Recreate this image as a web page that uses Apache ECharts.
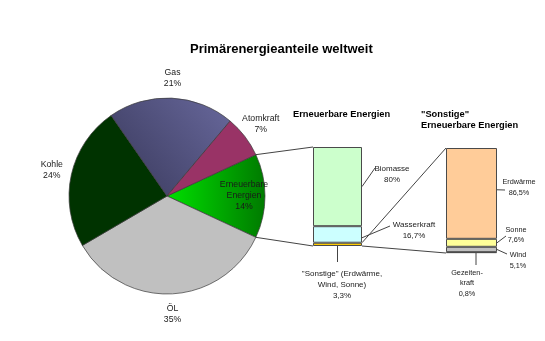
<!DOCTYPE html>
<html><head><meta charset="utf-8">
<script src="https://cdn.jsdelivr.net/npm/echarts@6/dist/echarts.min.js"></script>
<style>html,body{margin:0;padding:0;background:#fff}#c{width:545px;height:341px}</style>
</head><body><div id="c"></div>
<script>
// ---- data ----
const pieNames = ['Erneuerbare Energien', 'ÖL', 'Kohle', 'Gas', 'Atomkraft'];
const pieLabels = ['Erneuerbare\nEnergien', 'ÖL', 'Kohle', 'Gas', 'Atomkraft'];
const pieValues = [14, 35, 24, 21, 7];

const renewNames = ['"Sonstige" (Erdwärme, Wind, Sonne)', 'Wasserkraft', 'Biomasse'];
const renewLabels = ['"Sonstige" (Erdwärme,\nWind, Sonne)', 'Wasserkraft', 'Biomasse'];
const renewValues = [3.3, 16.7, 80];

const otherNames = ['Gezeitenkraft', 'Wind', 'Sonne', 'Erdwärme'];
const otherLabels = ['Gezeiten-\nkraft', 'Wind', 'Sonne', 'Erdwärme'];
const otherValues = [0.8, 5.1, 7.6, 86.5];

// ---- layout / style ----
const FONT = '"Liberation Sans", Arial, sans-serif';
const PIE_C = [167, 196], PIE_R = 98;
const G1 = {left: 313, top: 147, width: 49, height: 99};
const G2 = {left: 446, top: 148, width: 51, height: 105};
const renewColors = ['#ffcc00', '#ccffff', '#ccffcc'];
const otherColors = ['#0033cc', '#c0c0c0', '#ffff99', '#ffcc99'];
const renewLabelPos = [[342, 284.5], [414, 230.5], [392, 174.5]];
const otherLabelPos = [[467, 283], [518, 260.5], [516, 235], [519, 187.5]];
// leader lines: start on bar (bottom at x, or right side at fraction of segment), end point
const renewLeaders = [{bottomX: 337.5, end: [337.5, 262]}, {frac: 0.3, end: [390, 226]}, {frac: 0.5, end: [375, 168]}];
const otherLeaders = [{bottomX: 476, end: [476, 265]}, {frac: 0.5, end: [507, 254]}, {frac: 0.5, end: [506, 236]}, {frac: 0.54, end: [505, 190]}];

const pieColors = [
  new echarts.graphic.LinearGradient(0, 0, 1, 0, [{offset: 0, color: '#00e000'}, {offset: 1, color: '#007a00'}]),
  '#c0c0c0',
  '#003300',
  new echarts.graphic.LinearGradient(0, 1, 1, 0, [{offset: 0, color: '#38385a'}, {offset: 1, color: '#68689c'}]),
  '#993366'
];

const total = pieValues.reduce((a, b) => a + b, 0);
const startAngle = pieValues[0] / total * 180;
const mids = [], bounds = [];
let cum = 0;
pieValues.forEach(v => {
  bounds.push(startAngle - cum / total * 360);
  mids.push(startAngle - (cum + v / 2) / total * 360);
  cum += v;
});
function polar(deg, r) {
  const a = deg * Math.PI / 180;
  return [PIE_C[0] + r * Math.cos(a), PIE_C[1] - r * Math.sin(a)];
}
const fmt = v => String(v).replace('.', ',');

function barSeries(values, names, labels, colors, pos, idx, stack, fs) {
  return values.map((v, i) => ({
    type: 'bar', name: names[i], stack: stack, xAxisIndex: idx, yAxisIndex: idx,
    data: [v], barWidth: '100%', silent: true,
    itemStyle: {color: colors[i], borderColor: '#4a4a4a', borderWidth: 1},
    label: {
      show: true, position: 'right',
      formatter: () => labels[i] + '\n' + fmt(v) + '%',
      fontFamily: FONT, fontSize: fs, lineHeight: fs + 3.2, color: '#1a1a1a', align: 'center'
    },
    labelLine: {show: false},
    labelLayout: {x: pos[i][0], y: pos[i][1], align: 'center', verticalAlign: 'middle'}
  }));
}

const chart = echarts.init(document.getElementById('c'));
chart.setOption({
  animation: false,
  backgroundColor: '#fff',
  title: [
    {text: 'Primärenergieanteile weltweit', left: 190, top: 43, padding: 0,
     textStyle: {fontSize: 13, fontWeight: 'bold', fontFamily: FONT, color: '#000'}},
    {text: 'Erneuerbare Energien', left: 293, top: 110, padding: 0,
     textStyle: {fontSize: 9.3, fontWeight: 'bold', fontFamily: FONT, color: '#000'}},
    {text: '"Sonstige"\nErneuerbare Energien', left: 421, top: 108.5, padding: 0,
     textStyle: {fontSize: 9.3, fontWeight: 'bold', fontFamily: FONT, color: '#000', lineHeight: 11}}
  ],
  grid: [G1, G2],
  xAxis: [
    {gridIndex: 0, type: 'category', data: [''], show: false},
    {gridIndex: 1, type: 'category', data: [''], show: false}
  ],
  yAxis: [
    {gridIndex: 0, type: 'value', min: 0, max: 100, show: false},
    {gridIndex: 1, type: 'value', min: 0, max: 100, show: false}
  ],
  series: [
    {
      type: 'pie', center: PIE_C, radius: PIE_R, startAngle: startAngle, clockwise: true,
      avoidLabelOverlap: false, silent: true,
      data: pieValues.map((v, i) => ({name: pieNames[i], value: v, itemStyle: {color: pieColors[i]}})),
      itemStyle: {borderColor: '#3a3a3a', borderWidth: 0.7},
      label: {
        show: true, position: 'outside',
        formatter: p => pieLabels[p.dataIndex] + '\n' + p.value + '%',
        fontFamily: FONT, fontSize: 8.7, lineHeight: 11, color: '#1a1a1a', align: 'center'
      },
      labelLine: {show: false},
      labelLayout: p => {
        const i = p.dataIndex;
        const pt = polar(mids[i], i === 0 ? 77 : 118);
        return {x: pt[0], y: pt[1], align: 'center', verticalAlign: 'middle'};
      }
    },
    ...barSeries(renewValues, renewNames, renewLabels, renewColors, renewLabelPos, 0, 'r', 8),
    ...barSeries(otherValues, otherNames, otherLabels, otherColors, otherLabelPos, 1, 'o', 7.3)
  ]
});

// connector and leader lines computed from the scales
const py = (idx, v) => chart.convertToPixel({xAxisIndex: idx, yAxisIndex: idx}, [0, v])[1];
const x1L = G1.left, x1R = G1.left + G1.width, x2L = G2.left, x2R = G2.left + G2.width;
const segs = [
  [polar(bounds[0], PIE_R), [x1L, py(0, 100)]],
  [polar(bounds[1], PIE_R), [x1L, py(0, 0)]],
  [[x1R, py(0, renewValues[0])], [x2L, py(1, 100)]],
  [[x1R, py(0, 0)], [x2L, py(1, 0)]]
];
function leaders(values, specs, idx, xR) {
  let c = 0;
  values.forEach((v, i) => {
    const s = specs[i];
    if (s.bottomX !== undefined) {
      segs.push([[s.bottomX, py(idx, c)], s.end]);
    } else {
      segs.push([[xR, py(idx, c + v * s.frac)], s.end]);
    }
    c += v;
  });
}
leaders(renewValues, renewLeaders, 0, x1R);
leaders(otherValues, otherLeaders, 1, x2R);
chart.setOption({
  graphic: segs.map(s => ({
    type: 'line', silent: true, z: 0,
    shape: {x1: s[0][0], y1: s[0][1], x2: s[1][0], y2: s[1][1]},
    style: {stroke: '#444', lineWidth: 1}
  }))
});
</script>
</body></html>
